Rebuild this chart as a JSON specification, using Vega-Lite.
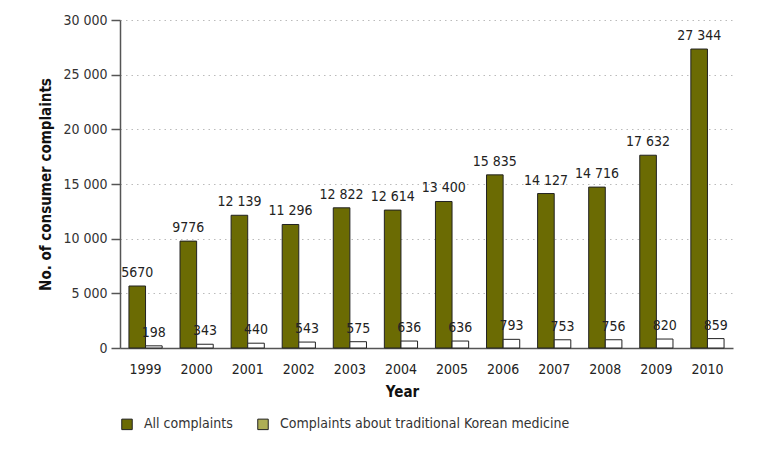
{
  "$schema": "https://vega.github.io/schema/vega-lite/v6.json",
  "width": 613,
  "height": 328,
  "autosize": {"type": "none"},
  "padding": {"left": 120, "top": 20, "right": 38, "bottom": 106},
  "config": {
    "view": {"stroke": null},
    "font": "DejaVu Sans Condensed, Liberation Sans, sans-serif",
    "locale": {"number": {"decimal": ".", "thousands": " ", "grouping": [3], "currency": ["", ""]}}
  },
  "data": {
    "values": [
      {"year": "1999", "series": "All complaints", "value": 5670, "label": "5670"},
      {"year": "1999", "series": "Complaints about traditional Korean medicine", "value": 198, "label": "198"},
      {"year": "2000", "series": "All complaints", "value": 9776, "label": "9776"},
      {"year": "2000", "series": "Complaints about traditional Korean medicine", "value": 343, "label": "343"},
      {"year": "2001", "series": "All complaints", "value": 12139, "label": "12 139"},
      {"year": "2001", "series": "Complaints about traditional Korean medicine", "value": 440, "label": "440"},
      {"year": "2002", "series": "All complaints", "value": 11296, "label": "11 296"},
      {"year": "2002", "series": "Complaints about traditional Korean medicine", "value": 543, "label": "543"},
      {"year": "2003", "series": "All complaints", "value": 12822, "label": "12 822"},
      {"year": "2003", "series": "Complaints about traditional Korean medicine", "value": 575, "label": "575"},
      {"year": "2004", "series": "All complaints", "value": 12614, "label": "12 614"},
      {"year": "2004", "series": "Complaints about traditional Korean medicine", "value": 636, "label": "636"},
      {"year": "2005", "series": "All complaints", "value": 13400, "label": "13 400"},
      {"year": "2005", "series": "Complaints about traditional Korean medicine", "value": 636, "label": "636"},
      {"year": "2006", "series": "All complaints", "value": 15835, "label": "15 835"},
      {"year": "2006", "series": "Complaints about traditional Korean medicine", "value": 793, "label": "793"},
      {"year": "2007", "series": "All complaints", "value": 14127, "label": "14 127"},
      {"year": "2007", "series": "Complaints about traditional Korean medicine", "value": 753, "label": "753"},
      {"year": "2008", "series": "All complaints", "value": 14716, "label": "14 716"},
      {"year": "2008", "series": "Complaints about traditional Korean medicine", "value": 756, "label": "756"},
      {"year": "2009", "series": "All complaints", "value": 17632, "label": "17 632"},
      {"year": "2009", "series": "Complaints about traditional Korean medicine", "value": 820, "label": "820"},
      {"year": "2010", "series": "All complaints", "value": 27344, "label": "27 344"},
      {"year": "2010", "series": "Complaints about traditional Korean medicine", "value": 859, "label": "859"}
    ]
  },
  "encoding": {
    "x": {
      "field": "year", "type": "nominal",
      "scale": {"paddingInner": 0.35, "paddingOuter": 0.175},
      "axis": {
        "title": "Year", "titleFontSize": 15, "titleFontWeight": "bold", "titleColor": "#111",
        "titleX": 282, "titlePadding": 8,
        "labelAngle": 0, "labelFontSize": 14, "labelColor": "#222", "labelPadding": 14,
        "ticks": false, "domainColor": "#555", "domainWidth": 1.5
      }
    },
    "xOffset": {"field": "series", "type": "nominal", "sort": ["All complaints", "Complaints about traditional Korean medicine"]},
    "y": {
      "field": "value", "type": "quantitative",
      "scale": {"domain": [0, 30000]},
      "axis": {
        "title": "No. of consumer complaints", "titleFontSize": 15, "titleFontWeight": "bold", "titleColor": "#111",
        "titleX": -75, "titleBaseline": "middle",
        "values": [0, 5000, 10000, 15000, 20000, 25000, 30000], "format": ",d",
        "labelFontSize": 14, "labelColor": "#333", "labelPadding": 4,
        "tickSize": 9, "tickColor": "#555", "tickWidth": 1.5,
        "domainColor": "#555", "domainWidth": 1.5,
        "grid": true, "gridColor": "#bbb", "gridDash": [1.5, 4], "gridWidth": 1
      }
    }
  },
  "layer": [
    {
      "mark": {"type": "bar", "stroke": "#222", "strokeWidth": 1},
      "encoding": {
        "fill": {
          "field": "series", "type": "nominal",
          "sort": ["All complaints", "Complaints about traditional Korean medicine"],
          "scale": {"range": ["#6b6b03", "#aeae55"]},
          "condition": {"test": "datum.series === 'Complaints about traditional Korean medicine'", "value": "white"},
          "legend": {
            "title": null, "orient": "bottom", "direction": "horizontal",
            "symbolType": "square", "symbolSize": 110, "symbolStrokeColor": "#222", "symbolStrokeWidth": 1,
            "labelFontSize": 14, "labelColor": "#333", "labelLimit": 500, "columnPadding": 22, "offset": 18, "labelOffset": 10
          }
        }
      }
    },
    {
      "mark": {"type": "text", "baseline": "bottom", "dy": -6, "fontSize": 14, "color": "#222"},
      "encoding": {"text": {"field": "label"}}
    }
  ]
}
